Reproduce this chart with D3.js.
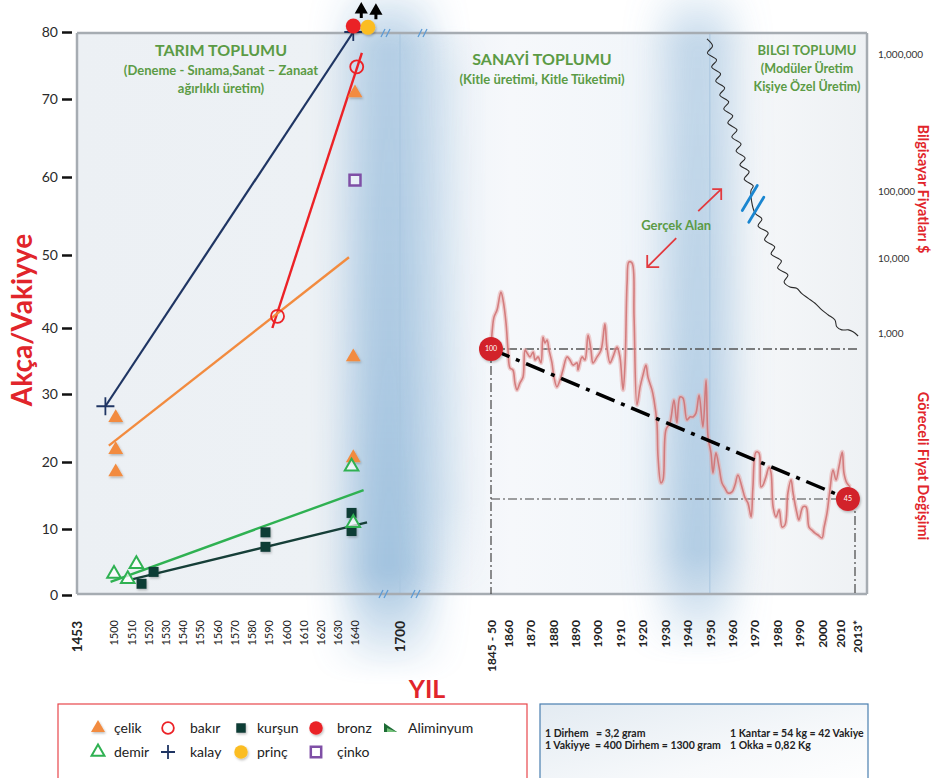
<!DOCTYPE html>
<html>
<head>
<meta charset="utf-8">
<title>Akça / Vakiyye</title>
<script src="https://cdn.jsdelivr.net/npm/d3@7/dist/d3.min.js"></script>
<style>
	body { margin: 0; background: #fff; }
	svg { display: block; font-family: Lato, "Open Sans", "DejaVu Sans", sans-serif; }
</style>
</head>
<body>
<svg id="chart" width="939" height="778"></svg>
<script>

	//left panel: metal prices, akça per vakiyye
	var yTicks = [ 0, 10, 20, 30, 40, 50, 60, 70, 80 ];
	var leftTickYears = [ 1500, 1510, 1520, 1530, 1540, 1550, 1560, 1570, 1580, 1590, 1600, 1610, 1620, 1630, 1640 ];

	var celikYears = [ 1501, 1501, 1501, 1639, 1639, 1640 ],
		celikValues = [ 26.5, 21.8, 18.5, 35.6, 20.6, 70.9 ];
	var demirYears = [ 1500, 1508, 1513, 1638, 1639 ],
		demirValues = [ 3.2, 2.4, 4.7, 19.3, 10.9 ];
	var bakirYears = [ 1595, 1641 ],
		bakirValues = [ 41.6, 74.8 ];
	var kalayYears = [ 1495, 1639 ],
		kalayValues = [ 28.2, 80 ];
	var kursunYears = [ 1516, 1523, 1588, 1588, 1638, 1638 ],
		kursunValues = [ 1.7, 3.5, 9.5, 7.3, 12.4, 9.7 ];
	var cinkoYears = [ 1640 ],
		cinkoValues = [ 59.6 ];
	var bronzYears = [ 1639 ],
		bronzValues = [ 80.9 ];
	var princYears = [ 1647.5 ],
		princValues = [ 80.7 ];

	//trend lines (start / end)
	var trendKeys = [ "kalay", "bakir", "celik", "demir", "kursun" ],
		trendStartYears = [ 1495, 1592, 1497, 1498, 1511 ],
		trendStartValues = [ 28.2, 40, 22.4, 2, 2.4 ],
		trendEndYears = [ 1639, 1644, 1636.5, 1645, 1647 ],
		trendEndValues = [ 80, 76.9, 49.7, 15.8, 11 ];

	//right panel: relative price change (index, 1845-50 = 100)
	var rightTickYears = [ 1847, 1860, 1870, 1880, 1890, 1900, 1910, 1920, 1930, 1940, 1950, 1960, 1970, 1980, 1990, 2000, 2010, 2013 ],
		rightTickLabels = [ "1845 - 50", "1860", "1870", "1880", "1890", "1900", "1910", "1920", "1930", "1940", "1950", "1960", "1970", "1980", "1990", "2000", "2010", "2013*" ];

	var priceYears = [ 1847, 1848, 1849.3, 1851.6, 1854.6, 1856.2, 1858.5, 1860, 1860.9, 1862.2,
		1863.1, 1864, 1865.3, 1866.7, 1867.6, 1868.5, 1869.8, 1871.2, 1872.1, 1873.4,
		1874.7, 1875.6, 1876.5, 1877.4, 1878.3, 1879.6, 1880.5, 1881.8, 1883.2, 1884.5,
		1886.3, 1887.6, 1889, 1890.8, 1891.2, 1893, 1894.3, 1895.7, 1897, 1897.9,
		1899.7, 1901.5, 1903.2, 1904.1, 1905.5, 1906.8, 1908.6, 1909.9, 1911.3, 1912.2,
		1913.1, 1913.9, 1915.3, 1916.2, 1917.5, 1918.9, 1920.2, 1921.5, 1922.4, 1924.2,
		1925.1, 1926.4, 1926.9, 1928.2, 1929.1, 1930.4, 1932.2, 1934, 1935.3, 1936.7,
		1938, 1939.8, 1941.1, 1942.5, 1943.8, 1945.2, 1946.9, 1948.3, 1949.2, 1950.5,
		1951.4, 1952.7, 1954.1, 1955.4, 1956.7, 1958.1, 1959.9, 1961.2, 1962.5, 1964.3,
		1965.7, 1967, 1968.4, 1969.2, 1970.6, 1971.9, 1972.8, 1973.7, 1975, 1976.4,
		1977.3, 1978.2, 1979.5, 1980.9, 1982.2, 1983.5, 1984.8, 1986.2, 1987.1, 1988.8,
		1989.7, 1991.5, 1992.9, 1994.2, 1995.5, 1996.9, 1998.2, 2000, 2001.1, 2002.8,
		2004.4, 2006.1, 2007.8, 2009.4, 2010.4, 2010.7, 2011.2, 2011.8 ];
	var priceIndex = [ 100, 107, 111.7, 114.3, 120.9, 118, 109.5, 99.6, 93, 92.3,
		87.5, 85, 87.5, 89.7, 99.6, 98.5, 97.1, 98.9, 96, 97.1,
		94.9, 104.4, 102.2, 103.3, 99.6, 94.9, 89.7, 86.1, 88.6, 92.3,
		97.1, 96, 94.1, 94.9, 92.3, 97.1, 96, 105.1, 99.6, 94.9,
		97.1, 99.6, 109.2, 100.7, 94.9, 97.1, 100.7, 97.1, 85, 94.9,
		124.2, 131.9, 131.5, 111.7, 79.5, 86.1, 90.5, 94.1, 89.7, 85,
		81.3, 72.9, 60.4, 50.9, 52, 70.3, 72.9, 81.3, 72.9, 82.4,
		82, 74, 75.1, 75.1, 76.5, 83.1, 71.4, 88.6, 67.7, 61.9,
		54.5, 61.9, 56.7, 50.9, 49, 47.2, 47.6, 50.1, 53.8, 49.4,
		45.4, 43.5, 38.4, 49.4, 62.2, 61.9, 49.4, 50.1, 53.1, 56.7,
		54.5, 42.1, 38.4, 41, 34.7, 35.5, 47.2, 52, 47.2, 39.9,
		37.3, 42.1, 42.1, 34.7, 33.6, 32.5, 31.8, 30.7, 34.4, 39.9,
		48.3, 55.6, 52, 56.7, 62.2, 54.5, 50.9, 49.4 ];

	//start and end of the index trend (100 -> 45)
	var indexMarkYears = [ 1847, 2011.4 ],
		indexMarkValues = [ 100, 45 ];

	//computer prices ($, log scale), hand drawn wavy line
	var pcTicks = [ 1000, 10000, 100000, 1000000 ];
	var computerYears = [ 1948.7, 1951.2, 1948.9, 1953, 1950.8, 1954.8, 1952.6, 1956.6, 1954.4, 1958.4,
		1956.2, 1960.2, 1958, 1962.1, 1959.8, 1963.9, 1961.7, 1965.7, 1963.4, 1967.5,
		1965.3, 1969.3, 1968.3,
		1970.1, 1973.2, 1971.5, 1976, 1974.4, 1978.9, 1977.3, 1981.9, 1980.2, 1984.8,
		1983.1, 1985.7,
		1988.7, 1990.9, 1993.9, 1996.9, 1999.9, 2003.5, 2007.2, 2008.2, 2010.3, 2011.5,
		2012.3, 2013.2 ];
	var computerPrices = [ 1290000, 1144000, 1017000, 904000, 804000, 715000, 635000, 565000, 502000, 447000,
		397000, 353000, 314000, 279000, 248000, 220000, 196000, 174000, 155000, 138000,
		122000, 109000, 100000,
		47000, 38200, 30000, 23600, 18600, 14600, 11500, 9120, 7360, 5930,
		4790, 4100,
		3950, 3380, 2900, 2490, 2030, 1740, 1490, 1210, 1100, 1100,
		1040, 912 ];
	var computerBreakYears = [ 1967.8, 1970.7 ],
		computerBreakPrices = [ 78700, 52600 ];

	//legend and notes
	var legendKeys = [ "celik", "demir", "bakir", "kalay", "kursun", "princ", "bronz", "cinko", "aliminyum" ],
		legendNames = [ "çelik", "demir", "bakır", "kalay", "kurşun", "prinç", "bronz", "çinko", "Aliminyum" ];
	var infoLeft = [ "1 Dirhem   = 3,2 gram", "1 Vakiyye  = 400 Dirhem = 1300 gram" ],
		infoRight = [ "1 Kantar = 54 kg = 42 Vakiye", "1 Okka = 0,82 Kg" ];

;( function() {

	"use strict";

	var plotLeft = 77,
		plotRight = 867,
		plotTop = 33,
		plotBottom = 594,
		splitX = 400,
		red = "#e1252b",
		green = "#5b9b45",
		colors = {
			celik: "#f28b3f",
			demir: "#2fb152",
			bakir: "#ec2227",
			kalay: "#1f3563",
			kursun: "#103c36",
			bronz: "#ea2127",
			princ: "#fbbd23",
			cinko: "#7f4fa6"
		};

	var svg = d3.select( "#chart" ),
		defs = svg.append( "defs" );

	//scales
	var xL = d3.scaleLinear().domain( [ 1500, 1640 ] ).range( [ 114, 355 ] ),
		yL = d3.scaleLinear().domain( yTicks ).range( [ 595, 529, 462, 394, 328, 255, 177, 99, 32 ] ),
		xR = d3.scaleLinear().domain( [ 1847, 1860, 2000, 2010, 2013 ] ).range( [ 491, 508, 822, 840, 857 ] ),
		yIdx = d3.scaleLinear().domain( [ 45, 100 ] ).range( [ 499, 349 ] ),
		yPc = d3.scaleLog().domain( pcTicks ).range( [ 333, 258, 191, 54 ] );

	//defs: background gradient, blur, shadow
	var bg = defs.append( "linearGradient" ).attr( "id", "plot-bg" );
	bg.selectAll( "stop" )
		.data( [ [ 0, "#ecf0f4" ], [ 0.3, "#edf1f5" ], [ 0.45, "#eef3f8" ], [ 0.55, "#f6f8fb" ], [ 0.7, "#f2f6fa" ], [ 0.85, "#f5f7f9" ], [ 1, "#eef1f4" ] ] )
		.enter().append( "stop" )
			.attr( "offset", function( d ) { return d[ 0 ]; } )
			.attr( "stop-color", function( d ) { return d[ 1 ]; } );

	//vertical fade of the era bands
	var fade = defs.append( "linearGradient" ).attr( "id", "band-fade" )
		.attr( "x1", 0 ).attr( "y1", 0 ).attr( "x2", 0 ).attr( "y2", 1 );
	fade.selectAll( "stop" )
		.data( [ [ 0, 0.15 ], [ 0.08, 0.75 ], [ 0.5, 0.85 ], [ 0.84, 1 ], [ 1, 0 ] ] )
		.enter().append( "stop" )
			.attr( "offset", function( d ) { return d[ 0 ]; } )
			.attr( "stop-color", "#9cbfdd" )
			.attr( "stop-opacity", function( d ) { return d[ 1 ]; } );

	var soft = defs.append( "filter" ).attr( "id", "soft" )
		.attr( "x", "-100%" ).attr( "y", "-10%" ).attr( "width", "300%" ).attr( "height", "120%" );
	soft.append( "feGaussianBlur" ).attr( "stdDeviation", "20 6" );

	var shadow = defs.append( "filter" ).attr( "id", "shadow" )
		.attr( "x", "-50%" ).attr( "y", "-50%" ).attr( "width", "200%" ).attr( "height", "200%" );
	shadow.append( "feDropShadow" ).attr( "dx", 1 ).attr( "dy", 1.5 ).attr( "stdDeviation", 1.2 )
		.attr( "flood-color", "#000" ).attr( "flood-opacity", 0.25 );

	var infoGrad = defs.append( "linearGradient" ).attr( "id", "info-bg" ).attr( "x1", 0 ).attr( "y1", 0 ).attr( "x2", 1 ).attr( "y2", 1 );
	infoGrad.append( "stop" ).attr( "offset", 0 ).attr( "stop-color", "#e3ebf2" );
	infoGrad.append( "stop" ).attr( "offset", 0.6 ).attr( "stop-color", "#f7f9fb" );
	infoGrad.append( "stop" ).attr( "offset", 1 ).attr( "stop-color", "#ffffff" );

	//plot background
	svg.append( "rect" )
		.attr( "x", plotLeft ).attr( "y", plotTop )
		.attr( "width", plotRight - plotLeft ).attr( "height", plotBottom - plotTop )
		.style( "fill", "url(#plot-bg)" );

	//blue era bands
	var bands = [
		{ x: splitX - 50, w: 78, top: -10, bottom: 680, op: 0.95 },
		{ x: xR( 1945 ) - 34, w: 66, top: -10, bottom: 660, op: 0.8 },
		{ x: splitX + 26, w: 30, top: plotTop, bottom: plotBottom, op: 0.35 }
	];
	svg.append( "g" ).attr( "class", "bands" ).selectAll( "rect" )
		.data( bands )
		.enter().append( "rect" )
			.attr( "x", function( d ) { return d.x; } )
			.attr( "y", function( d ) { return d.top; } )
			.attr( "width", function( d ) { return d.w; } )
			.attr( "height", function( d ) { return d.bottom - d.top; } )
			.attr( "filter", "url(#soft)" )
			.style( "fill", "url(#band-fade)" )
			.style( "opacity", function( d ) { return d.op; } );

	//thin separators
	[ splitX, xR( 1950 ) ].forEach( function( x ) {
		svg.append( "line" )
			.attr( "x1", x ).attr( "x2", x ).attr( "y1", plotTop ).attr( "y2", plotBottom )
			.style( "stroke", "#a9c6df" ).style( "stroke-width", 1 );
	} );

	//frame
	var frame = svg.append( "g" ).attr( "class", "frame" );
	frame.append( "line" ).attr( "x1", plotLeft ).attr( "x2", plotRight ).attr( "y1", plotTop ).attr( "y2", plotTop );
	frame.append( "line" ).attr( "x1", plotLeft ).attr( "x2", plotRight ).attr( "y1", plotBottom ).attr( "y2", plotBottom );
	frame.append( "line" ).attr( "x1", plotLeft ).attr( "x2", plotLeft ).attr( "y1", plotTop ).attr( "y2", plotBottom );
	frame.append( "line" ).attr( "x1", plotRight ).attr( "x2", plotRight ).attr( "y1", plotTop ).attr( "y2", plotBottom );
	frame.selectAll( "line" ).style( "stroke", "#a6acb2" ).style( "stroke-width", 2.5 );

	//axis break marks "//"
	var breaks = [ [ 385, plotTop ], [ 422, plotTop ], [ 383, plotBottom ], [ 415, plotBottom ] ];
	breaks.forEach( function( b ) {
		[ 0, 5 ].forEach( function( off ) {
			svg.append( "line" )
				.attr( "x1", b[ 0 ] + off - 4 ).attr( "y1", b[ 1 ] + 4 )
				.attr( "x2", b[ 0 ] + off ).attr( "y2", b[ 1 ] - 4 )
				.style( "stroke", "#5b9bd5" ).style( "stroke-width", 1.3 );
		} );
	} );

	//left y axis
	var gy = svg.append( "g" )
		.attr( "transform", "translate(72,0)" )
		.call( d3.axisLeft( yL ).tickValues( yTicks ).tickSize( 10 ).tickPadding( 4 ) );
	gy.select( ".domain" ).remove();
	gy.selectAll( "line" ).style( "stroke", "#111" ).style( "stroke-width", 2.5 );
	gy.selectAll( "text" )
		.style( "font-family", "Lato, sans-serif" )
		.style( "font-size", "14px" )
		.style( "fill", "#2a2a2a" );

	//x axes, rotated labels
	var rotateLabels = function( g, size, weight ) {
		g.select( ".domain" ).remove();
		g.selectAll( "text" )
			.attr( "x", 0 ).attr( "y", 0 ).attr( "dy", "0.35em" )
			.attr( "transform", "rotate(-90)" )
			.style( "text-anchor", "end" )
			.style( "font-family", "Lato, sans-serif" )
			.style( "font-size", size )
			.style( "font-weight", weight )
			.style( "fill", "#222" );
	};

	var gxl = svg.append( "g" )
		.attr( "transform", "translate(0,620)" )
		.call( d3.axisBottom( xL ).tickValues( leftTickYears ).tickSize( 0 ).tickFormat( d3.format( "d" ) ) );
	rotateLabels( gxl, "11px", "normal" );

	var gxr = svg.append( "g" )
		.attr( "transform", "translate(0,620)" )
		.call( d3.axisBottom( xR ).tickValues( rightTickYears ).tickSize( 0 ).tickFormat( function( d, i ) { return rightTickLabels[ i ]; } ) );
	rotateLabels( gxr, "12px", "bold" );

	//era limits on the left axis
	[ [ plotLeft, "1453" ], [ splitX, "1700" ] ].forEach( function( e ) {
		svg.append( "text" )
			.attr( "transform", "translate(" + e[ 0 ] + ",621) rotate(-90)" )
			.attr( "dy", "0.35em" )
			.style( "text-anchor", "end" )
			.style( "font-size", "13.5px" )
			.style( "font-weight", "bold" )
			.style( "fill", "#222" )
			.text( e[ 1 ] );
	} );

	//right log axis labels
	svg.append( "g" ).selectAll( "text" )
		.data( pcTicks )
		.enter().append( "text" )
			.attr( "x", 878 )
			.attr( "y", function( d ) { return yPc( d ); } )
			.attr( "dy", "0.35em" )
			.style( "font-size", "10px" )
			.style( "fill", "#333" )
			.text( d3.format( "," ) );

	//axis titles
	svg.append( "text" )
		.attr( "transform", "translate(32,320) rotate(-90)" )
		.style( "text-anchor", "middle" )
		.style( "font-size", "28px" ).style( "font-weight", "bold" ).style( "fill", red )
		.text( "Akça/Vakiyye" );
	svg.append( "text" )
		.attr( "x", 427 ).attr( "y", 698 )
		.style( "text-anchor", "middle" )
		.style( "font-size", "25px" ).style( "font-weight", "bold" ).style( "fill", red )
		.text( "YIL" );
	svg.append( "text" )
		.attr( "transform", "translate(918,189) rotate(90)" )
		.style( "text-anchor", "middle" )
		.style( "font-size", "14.5px" ).style( "font-weight", "bold" ).style( "fill", red )
		.text( "Bilgisayar Fiyatları $" );
	svg.append( "text" )
		.attr( "transform", "translate(918,466) rotate(90)" )
		.style( "text-anchor", "middle" )
		.style( "font-size", "14.5px" ).style( "font-weight", "bold" ).style( "fill", red )
		.text( "Göreceli Fiyat Değişimi" );

	//era titles
	var eraTitles = [
		{ x: 221, lines: [ [ "TARIM TOPLUMU", 16, 56 ], [ "(Deneme - Sınama,Sanat – Zanaat", 13, 75 ], [ "ağırlıklı üretim)", 13, 93 ] ] },
		{ x: 542, lines: [ [ "SANAYİ TOPLUMU", 16, 65 ], [ "(Kitle üretimi, Kitle Tüketimi)", 13, 84 ] ] },
		{ x: 807, lines: [ [ "BILGI TOPLUMU", 13, 55 ], [ "(Modüler Üretim", 12.5, 73 ], [ "Kişiye Özel Üretim)", 12.5, 91 ] ] }
	];
	eraTitles.forEach( function( t ) {
		t.lines.forEach( function( l ) {
			svg.append( "text" )
				.attr( "x", t.x ).attr( "y", l[ 2 ] )
				.style( "text-anchor", "middle" )
				.style( "font-size", l[ 1 ] + "px" ).style( "font-weight", "bold" ).style( "fill", green )
				.text( l[ 0 ] );
		} );
	} );

	//guides of the index panel
	var x100 = xR( indexMarkYears[ 0 ] ), y100 = yIdx( indexMarkValues[ 0 ] ),
		x45 = xR( indexMarkYears[ 1 ] ), y45 = yIdx( indexMarkValues[ 1 ] );
	var guides = [
		[ x100, y100, plotRight - 7, y100, "#555", 1.5 ],
		[ x100, y100, x100, plotBottom, "#444", 1.2 ],
		[ x100, y45, x45, y45, "#444", 1.1 ],
		[ xR( 2013 ) - 2, y45, xR( 2013 ) - 2, plotBottom, "#444", 1.2 ]
	];
	guides.forEach( function( g ) {
		svg.append( "line" )
			.attr( "x1", g[ 0 ] ).attr( "y1", g[ 1 ] ).attr( "x2", g[ 2 ] ).attr( "y2", g[ 3 ] )
			.style( "stroke", g[ 4 ] ).style( "stroke-width", g[ 5 ] )
			.style( "stroke-dasharray", "9,3,2,3" );
	} );

	//relative price index line
	var priceLine = d3.line()
		.x( function( d ) { return xR( d[ 0 ] ); } )
		.y( function( d ) { return yIdx( d[ 1 ] ); } )
		.curve( d3.curveCatmullRom.alpha( 0.5 ) );
	var priceData = d3.zip( priceYears, priceIndex );
	svg.append( "path" ).datum( priceData ).attr( "d", priceLine )
		.style( "fill", "none" ).style( "stroke", "#e7abab" ).style( "stroke-width", 4.5 ).style( "opacity", 0.55 );
	svg.append( "path" ).datum( priceData ).attr( "d", priceLine )
		.style( "fill", "none" ).style( "stroke", "#cf6e70" ).style( "stroke-width", 1.6 ).style( "opacity", 0.85 );

	//trend 100 -> 45
	svg.append( "line" )
		.attr( "x1", x100 ).attr( "y1", y100 ).attr( "x2", x45 ).attr( "y2", y45 )
		.style( "stroke", "#000" ).style( "stroke-width", 3.5 )
		.style( "stroke-dasharray", "20,7,4,7" );

	//index markers
	indexMarkYears.forEach( function( yr, i ) {
		var g = svg.append( "g" )
			.attr( "transform", "translate(" + xR( yr ) + "," + yIdx( indexMarkValues[ i ] ) + ")" );
		g.append( "circle" ).attr( "r", 12 )
			.attr( "filter", "url(#shadow)" )
			.style( "fill", "#d2222a" );
		g.append( "text" )
			.attr( "dy", "0.35em" )
			.style( "text-anchor", "middle" )
			.style( "font-size", "7px" ).style( "fill", "#fff" )
			.text( indexMarkValues[ i ] );
	} );

	//computer price line
	var pcLine = d3.line()
		.x( function( d ) { return xR( d[ 0 ] ); } )
		.y( function( d ) { return yPc( d[ 1 ] ); } )
		.curve( d3.curveCatmullRom.alpha( 0.5 ) );
	svg.append( "path" ).datum( d3.zip( computerYears, computerPrices ) ).attr( "d", pcLine )
		.style( "fill", "none" ).style( "stroke", "#2b2b2b" ).style( "stroke-width", 1.1 );

	//scale break on the computer line
	computerBreakYears.forEach( function( yr, i ) {
		var cx = xR( yr ), cy = yPc( computerBreakPrices[ i ] );
		svg.append( "line" )
			.attr( "x1", cx + 7.5 ).attr( "y1", cy - 12.5 )
			.attr( "x2", cx - 7.5 ).attr( "y2", cy + 12.5 )
			.style( "stroke", "#1a86d0" ).style( "stroke-width", 2.8 ).style( "stroke-linecap", "round" );
	} );

	//"gerçek alan" annotation
	var gx = xR( 1935 ), gyy = yIdx( 143.6 );
	svg.append( "text" )
		.attr( "x", gx ).attr( "y", gyy )
		.style( "text-anchor", "middle" )
		.style( "font-size", "13px" ).style( "font-weight", "bold" ).style( "fill", green )
		.text( "Gerçek Alan" );
	var arrowPaths = [
		[ [ gx + 22, gyy - 19 ], [ gx + 45, gyy - 41 ], [ [ gx + 36, gyy - 41 ], [ gx + 45, gyy - 30 ] ] ],
		[ [ gx, gyy + 8 ], [ gx - 29, gyy + 37 ], [ [ gx - 29, gyy + 25 ], [ gx - 17, gyy + 37 ] ] ]
	];
	arrowPaths.forEach( function( a ) {
		svg.append( "path" )
			.attr( "d", "M" + a[ 0 ] + "L" + a[ 1 ] + "M" + a[ 2 ][ 0 ] + "L" + a[ 1 ] + "L" + a[ 2 ][ 1 ] )
			.style( "fill", "none" ).style( "stroke", "#e23a3f" ).style( "stroke-width", 1.8 );
	} );

	//marker shapes
	var drawMarker = function( g, key, small ) {
		var k = small ? 0.9 : 1;
		switch ( key ) {
			case "celik":
				g.append( "path" ).attr( "d", d3.symbol( d3.symbolTriangle, 95 * k ) )
					.attr( "filter", "url(#shadow)" )
					.style( "fill", colors.celik );
				break;
			case "demir":
				g.append( "path" ).attr( "d", d3.symbol( d3.symbolTriangle, 80 * k ) )
					.style( "fill", "#fff" ).style( "fill-opacity", 0.7 )
					.style( "stroke", colors.demir ).style( "stroke-width", 2 );
				break;
			case "bakir":
				g.append( "circle" ).attr( "r", 6.5 * k )
					.style( "fill", "none" ).style( "stroke", colors.bakir ).style( "stroke-width", 1.8 );
				break;
			case "kalay":
				g.append( "path" ).attr( "d", small ? "M-7,0H7M0,-7V7" : "M-9,0H9M0,-9V9" )
					.style( "stroke", colors.kalay ).style( "stroke-width", 1.8 );
				break;
			case "kursun":
				g.append( "path" ).attr( "d", d3.symbol( d3.symbolSquare, 100 * k ) )
					.attr( "filter", "url(#shadow)" )
					.style( "fill", colors.kursun );
				break;
			case "bronz":
			case "princ":
				g.append( "circle" ).attr( "r", 7.5 * k )
					.attr( "filter", "url(#shadow)" )
					.style( "fill", colors[ key ] );
				break;
			case "cinko":
				g.append( "path" ).attr( "d", d3.symbol( d3.symbolSquare, 120 * k ) )
					.style( "fill", "#fff" ).style( "fill-opacity", 0.6 )
					.style( "stroke", colors.cinko ).style( "stroke-width", 2.5 );
				break;
			case "aliminyum":
				g.append( "path" ).attr( "d", "M-6,-5L-6,4L7,4Z" ).style( "fill", "#1d6b35" );
				g.append( "path" ).attr( "d", "M-3,0L-3,4L7,4Z" ).style( "fill", "#74c27a" );
				break;
		}
	};

	//trend lines
	trendKeys.forEach( function( key, i ) {
		svg.append( "line" )
			.attr( "x1", xL( trendStartYears[ i ] ) ).attr( "y1", yL( trendStartValues[ i ] ) )
			.attr( "x2", xL( trendEndYears[ i ] ) ).attr( "y2", yL( trendEndValues[ i ] ) )
			.style( "stroke", key === "kursun" ? "#163f38" : colors[ key ] )
			.style( "stroke-width", key === "kalay" ? 2.2 : 2.4 );
	} );

	//metal points
	var metalSeries = [
		{ key: "cinko", years: cinkoYears, values: cinkoValues },
		{ key: "celik", years: celikYears, values: celikValues },
		{ key: "kursun", years: kursunYears, values: kursunValues },
		{ key: "demir", years: demirYears, values: demirValues },
		{ key: "bakir", years: bakirYears, values: bakirValues },
		{ key: "kalay", years: kalayYears, values: kalayValues },
		{ key: "bronz", years: bronzYears, values: bronzValues },
		{ key: "princ", years: princYears, values: princValues }
	];
	metalSeries.forEach( function( s ) {
		s.years.forEach( function( yr, i ) {
			var g = svg.append( "g" )
				.attr( "transform", "translate(" + xL( yr ) + "," + yL( s.values[ i ] ) + ")" );
			drawMarker( g, s.key, false );
			//off-scale arrows for bronz and prinç
			if( s.key === "bronz" || s.key === "princ" ) {
				g.append( "path" )
					.attr( "d", "M8,-8V-14M4,-14L8,-21L12,-14Z" )
					.style( "stroke", "#000" ).style( "stroke-width", 3 ).style( "fill", "#000" );
			}
		} );
	} );

	//legend box
	var legend = svg.append( "g" ).attr( "class", "legend" );
	legend.append( "rect" )
		.attr( "x", 58 ).attr( "y", 704 ).attr( "width", 469 ).attr( "height", 90 )
		.style( "fill", "#fff" ).style( "stroke", "#e8464b" ).style( "stroke-width", 1.2 );
	var legendSymbolX = [ 98, 168, 241, 316, 390 ],
		legendTextX = [ 114, 190, 257, 337, 408 ],
		legendRowY = [ 728, 752 ];
	legendKeys.forEach( function( key, i ) {
		var col = Math.floor( i / 2 ), row = i % 2;
		var g = legend.append( "g" )
			.attr( "transform", "translate(" + legendSymbolX[ col ] + "," + legendRowY[ row ] + ")" );
		drawMarker( g, key, true );
		legend.append( "text" )
			.attr( "x", legendTextX[ col ] ).attr( "y", legendRowY[ row ] + 5 )
			.style( "font-size", "14px" ).style( "fill", "#222" )
			.text( legendNames[ i ] );
	} );

	//unit notes box
	var info = svg.append( "g" ).attr( "class", "info" );
	info.append( "rect" )
		.attr( "x", 540 ).attr( "y", 704 ).attr( "width", 328 ).attr( "height", 90 )
		.style( "fill", "url(#info-bg)" ).style( "stroke", "#4a7fb0" ).style( "stroke-width", 1.2 );
	[ [ infoLeft, 545 ], [ infoRight, 730 ] ].forEach( function( col ) {
		col[ 0 ].forEach( function( t, i ) {
			info.append( "text" )
				.attr( "x", col[ 1 ] ).attr( "y", 737 + i * 12 )
				.style( "font-size", "10.5px" ).style( "font-weight", "bold" ).style( "fill", "#222" )
				.text( t.replace( / /g, "\u00a0" ) );
		} );
	} );

} )();
</script>
</body>
</html>
